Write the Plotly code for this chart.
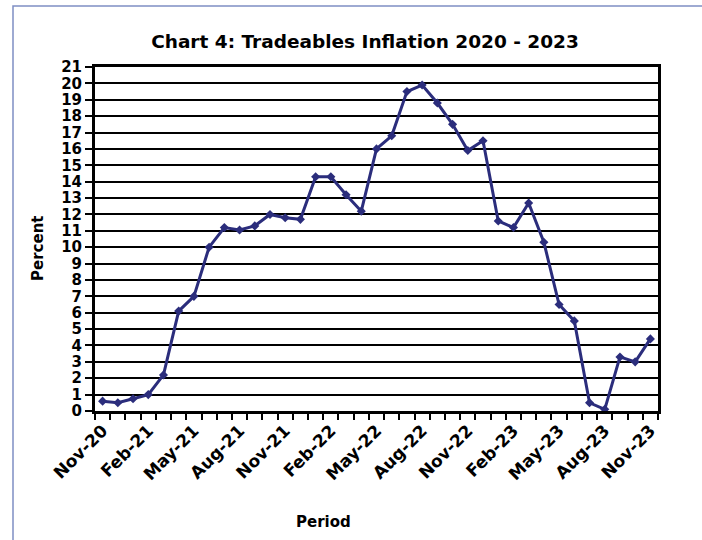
import plotly.graph_objects as go
import pandas as pd

# Categories: monthly periods Nov-20 .. Nov-23
periods = [d.strftime("%b-%y") for d in pd.date_range("2020-11-01", "2023-11-01", freq="MS")]

# Tradeables inflation (percent)
inflation = [0.6, 0.5, 0.75, 1.0, 2.2, 6.1, 7.0, 10.0, 11.2, 11.05, 11.3, 12.0,
             11.8, 11.7, 14.3, 14.3, 13.2, 12.2, 16.0, 16.8, 19.5, 19.9, 18.8, 17.5,
             15.9, 16.5, 11.6, 11.2, 12.7, 10.3, 6.5, 5.5, 0.5, 0.1, 3.3, 3.0, 4.4]

y_ticks = list(range(0, 22))
label_step = 3

W, H = 702, 540
L, R, T, B = 95, 44, 67, 129
pw, ph = W - L - R, H - T - B

idx = list(range(len(periods)))
lab_idx = idx[::label_step]

fig = go.Figure()
fig.add_trace(go.Scatter(
    x=idx, y=inflation, mode="lines+markers",
    line=dict(color="#2b2d7c", width=3),
    marker=dict(symbol="diamond", size=7, color="#2b2d7c"),
    hoverinfo="x+y", showlegend=False,
))

font_fam = "'DejaVu Sans', sans-serif"

fig.update_layout(
    width=W, height=H,
    margin=dict(l=L, r=R, t=T, b=B),
    paper_bgcolor="white", plot_bgcolor="white",
    font=dict(family=font_fam, color="black"),
    title=dict(text="<b>Chart 4: Tradeables Inflation 2020 - 2023</b>",
               x=(365) / W, xanchor="center", y=1 - 42 / H, yanchor="middle",
               font=dict(size=18.5, family=font_fam, color="black")),
    xaxis=dict(
        range=[-0.5, len(periods) - 0.5], automargin=False,
        tickmode="array", tickvals=lab_idx,
        ticktext=["<b>%s</b>" % periods[i] for i in lab_idx],
        tickangle=-45, ticks="", tickfont=dict(size=17, family=font_fam, color="black"),
        showgrid=False, zeroline=False,
        showline=True, linecolor="black", linewidth=3, mirror=True,
        minor=dict(tickmode="array", tickvals=[i - 0.5 for i in range(len(periods) + 1)],
                   ticks="outside", ticklen=6, tickwidth=2, tickcolor="black", showgrid=False),
    ),
    yaxis=dict(
        range=[0, 21], automargin=False, tickmode="array", tickvals=y_ticks,
        ticktext=["<b>%d</b>" % v for v in y_ticks],
        ticks="outside", ticklen=7, tickwidth=2, tickcolor="black",
        tickfont=dict(size=15, family=font_fam, color="black"),
        showgrid=True, gridcolor="black", gridwidth=2.2,
        zeroline=False, showline=True, linecolor="black", linewidth=3, mirror=True,
    ),
    annotations=[
        dict(text="<b>Percent</b>", textangle=-90, xref="paper", yref="paper",
             x=(38 - L) / pw, y=(H - B - 249) / ph, xanchor="center", yanchor="middle",
             showarrow=False, font=dict(size=15, family=font_fam, color="black")),
        dict(text="<b>Period</b>", xref="paper", yref="paper",
             x=(323 - L) / pw, y=(H - B - 522) / ph, xanchor="center", yanchor="middle",
             showarrow=False, font=dict(size=15, family=font_fam, color="black")),
    ],
    shapes=[
        dict(type="rect", xref="paper", yref="paper",
             x0=(13 - L) / pw, x1=(W + 20 - L) / pw,
             y0=(H - B - (H + 20)) / ph, y1=(H - B - 6) / ph,
             line=dict(color="#7f8fc4", width=1.5), fillcolor="rgba(0,0,0,0)", layer="below"),
    ],
)

fig.write_html("out.html", config={"displayModeBar": False},
               post_script="document.body.style.margin='0px';")
